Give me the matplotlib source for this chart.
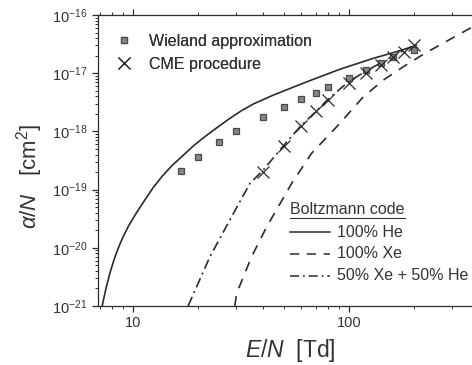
import math
import matplotlib
matplotlib.use("Agg")
import matplotlib.pyplot as plt
from matplotlib.lines import Line2D
from matplotlib.ticker import FixedLocator, NullFormatter, FuncFormatter

plt.rcParams['font.family'] = ['Liberation Sans', 'DejaVu Sans']
plt.rcParams['mathtext.fontset'] = 'custom'
plt.rcParams['mathtext.rm'] = 'Liberation Sans'
plt.rcParams['mathtext.it'] = 'Liberation Sans:italic'
plt.rcParams['mathtext.default'] = 'regular'

INK = '#2b2b2b'
TXT = '#333333'

# Wieland approximation (E/N in Td, alpha/N in cm^2)
wieland_en = [16.6, 20, 25, 30, 40, 50, 60, 70, 80, 100, 120, 140, 160, 200]
wieland_alpha = [2.1e-19, 3.6e-19, 6.5e-19, 1.02e-18, 1.79e-18, 2.66e-18, 3.6e-18,
                 4.5e-18, 5.7e-18, 8.2e-18, 1.13e-17, 1.48e-17, 1.92e-17, 2.5e-17]

# CME procedure
cme_en = [40, 50, 60, 70, 80, 100, 120, 140, 160, 180, 200]
cme_alpha = [2.0e-19, 5.7e-19, 1.25e-18, 2.25e-18, 3.5e-18, 6.7e-18, 1.0e-17,
             1.38e-17, 1.92e-17, 2.34e-17, 3.1e-17]

# Boltzmann code: 100% He
he_en = [7.2, 7.5, 7.8, 8.1, 8.4, 8.7, 9.0, 9.5, 10.4, 11.4, 12.4, 13.6, 15.1, 16.8,
         19.0, 21.5, 24.4, 27.6, 31.8, 36.1, 44.6, 63.7, 90.8, 129.6, 166, 205]
he_alpha = [1e-21, 2.01e-21, 3.55e-21, 5.65e-21, 8.34e-21, 1.16e-20, 1.54e-20,
            2.31e-20, 4.05e-20, 6.8e-20, 1.08e-19, 1.67e-19, 2.55e-19, 3.67e-19,
            5.6e-19, 8.1e-19, 1.15e-18, 1.6e-18, 2.27e-18, 2.96e-18, 4.2e-18,
            7.1e-18, 1.17e-17, 1.8e-17, 2.34e-17, 3.0e-17]

# Boltzmann code: 100% Xe
xe_en = [29.6, 30.2, 35.4, 41.6, 46.2, 54.3, 67.1, 87.7, 116.4, 144.1, 178.4,
         224.9, 363, 400]
xe_alpha = [1e-21, 1.65e-21, 7.0e-21, 2.3e-20, 4.5e-20, 1.28e-19, 4.2e-19, 1.2e-18,
            3.9e-18, 7.6e-18, 1.29e-17, 2.2e-17, 5.9e-17, 6.8e-17]

# Boltzmann code: 50% Xe + 50% He
mix_en = [18.0, 22.7, 28.6, 34.8, 40.1, 49.6, 59.3, 70.9, 79.4, 99.3, 118.6,
          139.2, 163.3, 195]
mix_alpha = [1e-21, 7.0e-21, 3.4e-20, 1.28e-19, 2.17e-19, 5.6e-19, 1.2e-18, 2.27e-18,
             3.47e-18, 7.1e-18, 1.06e-17, 1.48e-17, 2.06e-17, 2.85e-17]

x_major = [10, 100]
x_minor = [7, 8, 9, 20, 30, 40, 50, 60, 70, 80, 90, 200, 300, 400]
y_major = [1e-21, 1e-20, 1e-19, 1e-18, 1e-17, 1e-16]
y_minor = [m * 10.0 ** e for e in range(-21, -16) for m in range(2, 10)]

DASHED = (6, 5)
DASHDOT = (6, 2.5, 1.2, 2.5)

W, H = 472, 365
fig = plt.figure(figsize=(W / 100, H / 100), dpi=100)
left, right, top, bottom = 97.5, 479, 15, 306
ax = fig.add_axes([left / W, 1 - bottom / H, (right - left) / W, (bottom - top) / H])

ax.plot(he_en, he_alpha, '-', color=INK, lw=1.2)
ax.plot(xe_en, xe_alpha, color=INK, lw=1.2, dashes=DASHED)
ax.plot(mix_en, mix_alpha, color=INK, lw=1.2, dashes=DASHDOT)
sq_style = dict(marker='s', ms=5, mfc='#858585', mec='#4a4a4a', mew=0.9, ls='none')
x_style = dict(marker='x', ms=9, mec=INK, mew=0.9, ls='none')
ax.plot(wieland_en, wieland_alpha, **sq_style)
ax.plot(cme_en, cme_alpha, **x_style)

ax.set_xscale('log')
ax.set_yscale('log')
ax.set_xlim(6.85, 400)
ax.set_ylim(1e-21, 1e-16)

ax.xaxis.set_major_locator(FixedLocator(x_major))
ax.xaxis.set_minor_locator(FixedLocator(x_minor))
ax.xaxis.set_minor_formatter(NullFormatter())
ax.yaxis.set_major_locator(FixedLocator(y_major))
ax.yaxis.set_minor_locator(FixedLocator(y_minor))
ax.yaxis.set_minor_formatter(NullFormatter())
ax.xaxis.set_major_formatter(FuncFormatter(lambda v, p: f'{v:g}'))
ax.yaxis.set_major_formatter(FuncFormatter(
    lambda v, p: r'$10^{%d}$' % round(math.log10(v))))

ax.tick_params(which='both', direction='out', color=INK, labelcolor=TXT,
               labelsize=10.5, top=True, right=False)
ax.tick_params(which='major', length=4, width=0.9)
ax.tick_params(which='minor', length=2.5, width=0.7)
for sp in ax.spines.values():
    sp.set_color(INK)
    sp.set_linewidth(0.9)
ax.spines['right'].set_visible(False)

fig.text(290 / W, 1 - 350 / H, r'$\it{E/N}$  [Td]', ha='center', va='center',
         fontsize=16.5, color=TXT)
fig.text(30 / W, 1 - 176 / H, r'$\it{\alpha/N}$   [cm$^2$]', ha='center', va='center',
         rotation=90, fontsize=16, color=TXT)

# marker legend
handles = [Line2D([], [], **sq_style), Line2D([], [], **x_style)]
leg1 = ax.legend(handles, ['Wieland approximation', 'CME procedure'],
                 loc='upper left',
                 bbox_to_anchor=((114 - left) / (right - left), 1 - (34 - top) / (bottom - top)),
                 frameon=False, fontsize=11.5, handlelength=1.2, handletextpad=1.0,
                 labelspacing=0.5, borderaxespad=0, borderpad=0, labelcolor=TXT)
ax.add_artist(leg1)

# Boltzmann code legend
fig.text(290 / W, 1 - 210 / H, 'Boltzmann code', ha='left', va='center', fontsize=11.5,
         color=TXT)
fig.add_artist(Line2D([290 / W, 405 / W], [1 - 218 / H] * 2, color=TXT, lw=0.8))
styles = [dict(ls='-'), dict(dashes=DASHED), dict(dashes=DASHDOT)]
names = ['100% He', '100% Xe', '50% Xe + 50% He']
for i, (st, nm) in enumerate(zip(styles, names)):
    yy = 1 - (232 + 22 * i) / H
    fig.add_artist(Line2D([290 / W, 330 / W], [yy, yy], color=INK, lw=1.1, **st))
    fig.text(337 / W, yy, nm, ha='left', va='center', fontsize=11.5, color=TXT)

fig.savefig('out.png', dpi=100, facecolor='white')
